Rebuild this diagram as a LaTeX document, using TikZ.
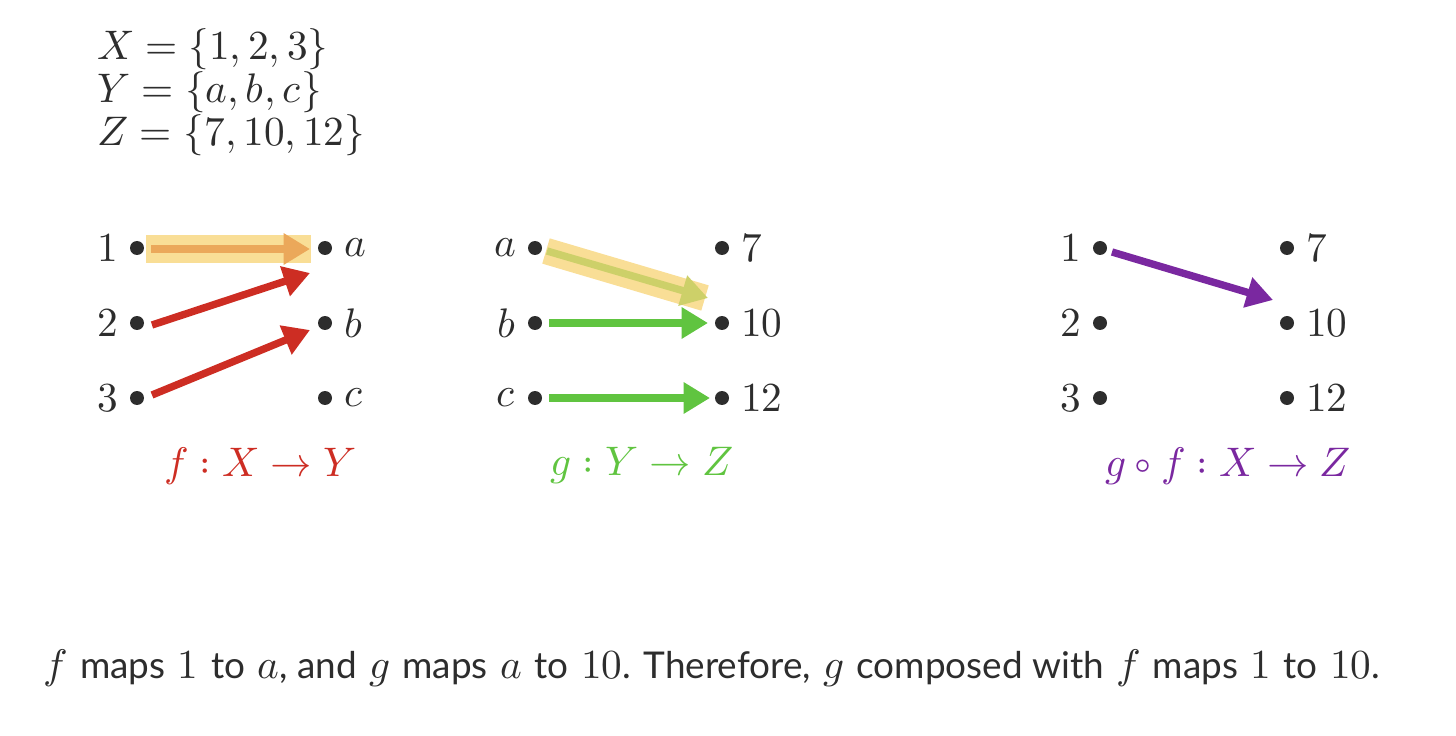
\documentclass[tikz,border=0pt]{standalone}
\usepackage{amsmath}
\usepackage{fontspec}
\usepackage{unicode-math}
\setmathfont{Latin Modern Math}
\usepackage{tikz}
\usetikzlibrary{arrows.meta,positioning,calc}
\newfontfamily\bodyfont{Lato}
\definecolor{cmdark}{RGB}{45,45,45}
\definecolor{cmred}{RGB}{205,45,35}
\definecolor{cmgreen}{RGB}{96,196,64}
\definecolor{cmpurple}{RGB}{122,40,160}
\definecolor{cmhigh}{RGB}{249,222,150}
\definecolor{cmorange}{RGB}{235,168,90}
\definecolor{cmolive}{RGB}{205,208,105}
\newcommand{\captext}[1]{{\bodyfont\fontsize{21}{24}\selectfont #1}}

\begin{document}
\begin{tikzpicture}[x=0.02cm, y=-0.02cm,
    font=\fontsize{23.5}{24.4}\selectfont, text=cmdark,
    pt/.style={circle, fill=cmdark, inner sep=0pt, minimum size=2.8mm},
    lbl/.style={inner sep=0pt, label distance=6.5pt, text=cmdark},
    maparrow/.style={line width=4.2pt, -{Triangle[length=15pt, width=17pt]}, #1},
    hilite/.style={cmhigh, line width=#1}]
\useasboundingbox (0,0) rectangle (1456,736);
% Sets
\node[anchor=north west, align=left, inner sep=0pt] (sets) at (97,28)
  {$X=\{1,2,3\}$\\ $Y=\{a,b,c\}$\\ $Z=\{7,10,12\}$};
% Left: f
\node[pt, label={[lbl]left:$1$}] (fx1) at (137,248) {};
\node[pt, label={[lbl]left:$2$}] (fx2) at (137,323) {};
\node[pt, label={[lbl]left:$3$}] (fx3) at (137,398) {};
\node[pt, label={[lbl]right:$a$}] (fya) at (325,248) {};
\node[pt, label={[lbl]right:$b$}] (fyb) at (325,323) {};
\node[pt, label={[lbl]right:$c$}] (fyc) at (325,398) {};
\fill[cmhigh] ($(fx1)+(9,-13)$) rectangle ($(fya)+(-14,15)$);
\draw[maparrow=cmorange] ($(fx1)+(14,1)$) -- ($(fya)+(-15,1)$);
\draw[maparrow=cmred] ($(fx2)+(15,2)$) -- ($(fya)+(-15,25)$);
\draw[maparrow=cmred] ($(fx3)+(15,-3)$) -- ($(fyb)+(-15,7)$);
\node[text=cmred] (flbl) at (260,466) {$f : X \to Y$};
% Middle: g
\node[pt, label={[lbl]left:$a$}] (gya) at (535,248) {};
\node[pt, label={[lbl]left:$b$}] (gyb) at (535,323) {};
\node[pt, label={[lbl]left:$c$}] (gyc) at (535,398) {};
\node[pt, label={[lbl]right:$7$}] (gz7) at (722,248) {};
\node[pt, label={[lbl]right:$10$}] (gz10) at (722,323) {};
\node[pt, label={[lbl]right:$12$}] (gz12) at (722,398) {};
\draw[hilite=15pt] ($(gya)+(11,3)$) -- ($(gz10)+(-17,-25)$);
\draw[maparrow=cmolive] ($(gya)+(12,3)$) -- ($(gz10)+(-14,-25)$);
\draw[maparrow=cmgreen] ($(gyb)+(14,0)$) -- ($(gz10)+(-14,0)$);
\draw[maparrow=cmgreen] ($(gyc)+(14,0)$) -- ($(gz12)+(-12,0)$);
\node[text=cmgreen] (glbl) at (642,466) {$g : Y \to Z$};
% Right: g o f
\node[pt, label={[lbl]left:$1$}] (hx1) at (1100,248) {};
\node[pt, label={[lbl]left:$2$}] (hx2) at (1100,323) {};
\node[pt, label={[lbl]left:$3$}] (hx3) at (1100,398) {};
\node[pt, label={[lbl]right:$7$}] (hz7) at (1287,248) {};
\node[pt, label={[lbl]right:$10$}] (hz10) at (1287,323) {};
\node[pt, label={[lbl]right:$12$}] (hz12) at (1287,398) {};
\draw[maparrow=cmpurple] ($(hx1)+(12,4)$) -- ($(hz10)+(-14,-23)$);
\node[text=cmpurple] (hlbl) at (1228,466) {$g \circ f : X \to Z$};
% Caption
\node[text=cmdark] (note) at (712,668)
  {$f$ \captext{maps} $1$ \captext{to} $a$\captext{, and} $g$ \captext{maps} $a$ \captext{to} $10$\captext{. Therefore,} $g$ \captext{composed with} $f$ \captext{maps} $1$ \captext{to} $10$\captext{.}};
\end{tikzpicture}
\end{document}
